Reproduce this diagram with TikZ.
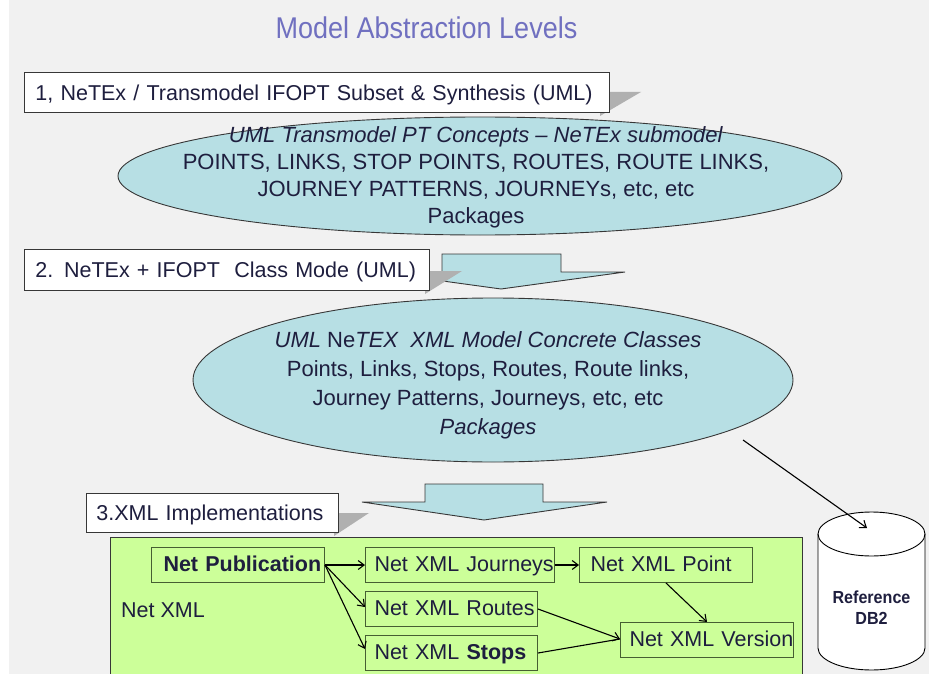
\documentclass[tikz,border=0pt]{standalone}
\usepackage{fontspec}
\setmainfont{Liberation Sans}
\newfontfamily\titlefont[FakeStretch=0.9]{Liberation Sans}
\newfontfamily\dbfont[FakeStretch=0.92]{Liberation Sans}
\usetikzlibrary{arrows.meta,shapes.geometric}
\definecolor{bg}{RGB}{241,241,241}
\definecolor{ellfill}{RGB}{183,223,228}
\definecolor{xmlgreen}{RGB}{204,255,153}
\definecolor{ink}{RGB}{30,30,62}
\definecolor{titlecol}{RGB}{112,112,192}
\definecolor{shadowgray}{RGB}{176,176,176}
\definecolor{edgecol}{RGB}{55,55,55}
\definecolor{iedge}{RGB}{70,95,50}
\newlength{\boxpad}
\begin{document}
\begin{tikzpicture}[x=1pt,y=-1pt,
  pad/.code={\setlength{\boxpad}{#1}},
  bigbox/.style={draw=edgecol, line width=0.9pt, fill=white, text=ink,
    anchor=north west, inner xsep=0pt, inner ysep=0pt, text width=#1, align=left,
    minimum height=40pt, text height=16pt, text depth=0pt, pad=11pt,
    font=\fontsize{21.5}{26}\selectfont, execute at begin node={\hspace*{\boxpad}}},
  ell/.style={ellipse, draw=edgecol, line width=0.9pt, fill=ellfill, inner sep=0pt},
  elltext/.style={text=ink, align=center, inner sep=0pt},
  barrow/.style={draw=edgecol, line width=0.9pt, fill=ellfill, line join=miter},
  wedge/.style={fill=shadowgray},
  ibox/.style={draw=iedge, line width=1pt, fill=xmlgreen, text=ink,
    anchor=north west, inner xsep=0pt, inner ysep=0pt, text width=#1, align=left,
    minimum height=35pt, text height=15pt, text depth=2pt, pad=9pt,
    font=\fontsize{21.5}{25}\selectfont, execute at begin node={\hspace*{\boxpad}}},
  conn/.style={draw=black, line width=1.1pt, -{Straight Barb[length=6pt,width=9pt]}},
]
\useasboundingbox (0,0) rectangle (929,674);
\fill[white] (0,0) rectangle (929,674);
\fill[bg] (9,0) rectangle (929,674);

% title
\node[anchor=base, text=titlecol, inner sep=0pt, font=\titlefont\fontsize{30}{34}\selectfont] (title) at (426.5,39) {Model Abstraction Levels};

% level 1
\fill[wedge] (600,92) -- (641,92) -- (600,116) -- cycle;
\node[bigbox=585pt] (B1) at (24,72) {\mbox{1, NeTEx / Transmodel IFOPT Subset \& Synthesis (UML)}};
\node[ell, minimum width=724pt, minimum height=118pt] (E1) at (480,176) {};
\node[elltext, font=\fontsize{22}{27}\selectfont] (T1) at (476,177.8)
  {\textit{UML Transmodel PT Concepts -- NeTEx submodel}\\
   POINTS, LINKS, STOP POINTS, ROUTES, ROUTE LINKS,\\
   JOURNEY PATTERNS, JOURNEYs, etc, etc\\
   Packages};

% level 2
\filldraw[barrow] (442,254) -- (561,254) -- (561,272) -- (625,272) -- (501,289) -- (377,272) -- (442,272) -- cycle;
\fill[wedge] (425,271) -- (462,271) -- (425,294) -- cycle;
\node[bigbox=405pt, minimum height=41pt] (B2) at (24,249) {\mbox{2. NeTEx + IFOPT\ \ Class Mode (UML)}};
\node[ell, minimum width=600pt, minimum height=164pt] (E2) at (493,380) {};
\node[elltext, font=\fontsize{22}{29}\selectfont] (T2) at (488,385.8)
  {\textit{UML} Ne\textit{TEX\ \ XML Model Concrete Classes}\\
   Points, Links, Stops, Routes, Route links,\\
   Journey Patterns, Journeys, etc, etc\\
   \textit{Packages}};

% level 3
\filldraw[barrow] (425,484) -- (543,484) -- (543,502) -- (607,502) -- (484,520) -- (362,502) -- (425,502) -- cycle;
\fill[wedge] (334,513) -- (369,513) -- (334,536) -- cycle;
\node[bigbox=252pt, minimum height=39pt, pad=10pt] (B3) at (86,493) {\mbox{3.XML Implementations}};

% green area
\node[draw=edgecol, line width=1pt, fill=xmlgreen, anchor=north west, minimum width=692pt, minimum height=150pt, inner sep=0pt] (G) at (110,537) {};
\node[anchor=base west, text=ink, inner sep=0pt, font=\fontsize{21.5}{25}\selectfont] (NX) at (121,617) {Net XML};

\node[ibox=173pt, pad=12pt] (NP) at (151,547) {\mbox{\textbf{Net Publication}}};
\node[ibox=189pt] (NJ) at (365,547) {\mbox{Net XML Journeys}};
\node[ibox=172pt] (NR) at (365,591) {\mbox{Net XML Routes}};
\node[ibox=172pt] (NS) at (365,635) {\mbox{Net XML \textbf{Stops}}};
\node[ibox=173pt, pad=11pt] (NPt) at (579,547) {\mbox{Net XML Point}};
\node[ibox=173pt] (NV) at (620,622) {\mbox{Net XML Version}};

\draw[conn] (NP.east) -- (NJ.west);
\draw[conn] (NP.east) -- ([yshift=2pt]NR.west);
\draw[conn] (NP.east) -- ([yshift=4pt]NS.west);
\draw[conn] (NJ.east) -- (NPt.west);
\draw[conn] (NPt.south) -- (NV.north);
\draw[conn] (NR.east) -- ([yshift=1pt]NV.west);
\draw[conn, -] (NS.east) -- ([yshift=1pt]NV.west);

% database
\filldraw[draw=black, line width=0.9pt, fill=white]
  (818,534) -- (818,648) arc[start angle=180, end angle=0, x radius=53.5, y radius=22]
  -- (925,534) arc[start angle=0, end angle=-180, x radius=53.5, y radius=22] -- cycle;
\draw[line width=0.9pt] (818,534) arc[start angle=180, end angle=0, x radius=53.5, y radius=22];
\node[elltext, font=\dbfont\bfseries\fontsize{17.5}{21}\selectfont] (DB) at (871.5,608) {Reference\\DB2};

\coordinate (e2out) at (743,440);
\coordinate (dbtip) at (867,528);
\draw[conn] (e2out) -- (dbtip);
\end{tikzpicture}
\end{document}
